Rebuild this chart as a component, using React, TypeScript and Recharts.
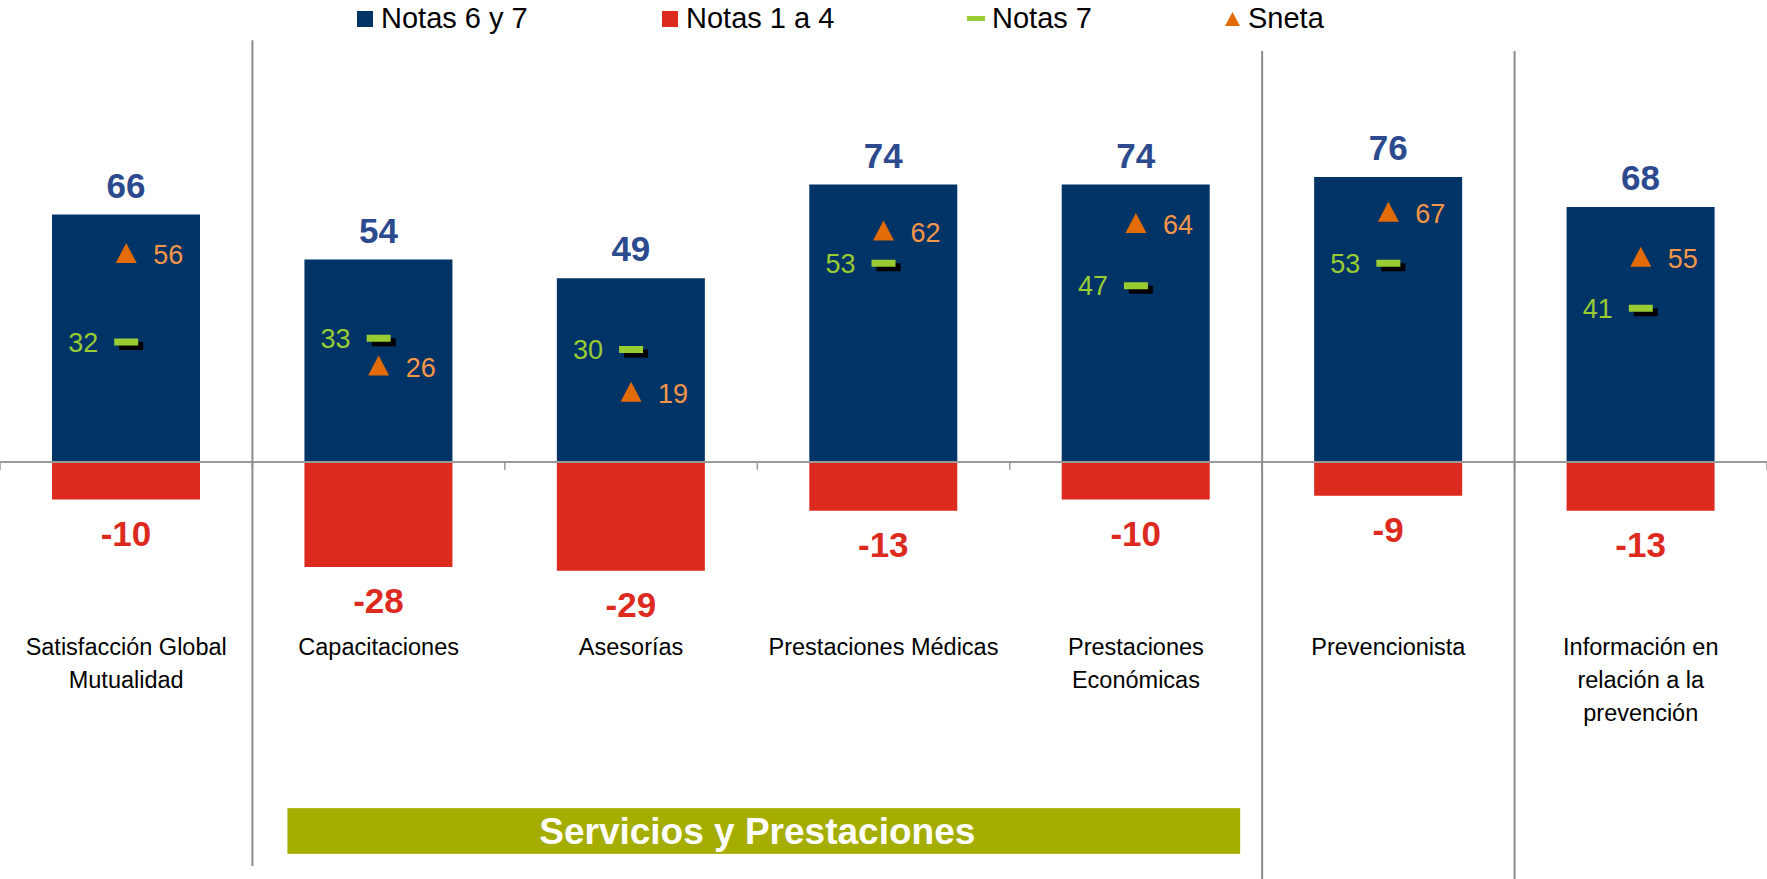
import React from 'react';
import {
  ComposedChart,
  Bar,
  Line,
  XAxis,
  YAxis,
  ReferenceLine,
  ReferenceArea,
  LabelList,
  Legend,
  Label,
} from 'recharts';

// ---------- data ----------
const categories = [
  'Satisfacción Global\nMutualidad',
  'Capacitaciones',
  'Asesorías',
  'Prestaciones Médicas',
  'Prestaciones\nEconómicas',
  'Prevencionista',
  'Información en\nrelación a la\nprevención',
];
const notas67 = [66, 54, 49, 74, 74, 76, 68];
const notas14 = [-10, -28, -29, -13, -10, -9, -13];
const notas7 = [32, 33, 30, 53, 47, 53, 41];
const sneta = [56, 26, 19, 62, 64, 67, 55];
const seriesNames = ['Notas 6 y 7', 'Notas 1 a 4', 'Notas 7', 'Sneta'];
const groupLabel = 'Servicios y Prestaciones';
// groups start at these categories (vertical separators on their left edge)
const groupStarts = [1, 5, 6];
// the "Servicios y Prestaciones" group covers categories 1..4
const groupFirst = 1;
const groupLast = 4;

const data = categories.map((name, i) => ({
  name,
  n67: notas67[i],
  n14: notas14[i],
  n7: notas7[i],
  sneta: sneta[i],
}));

// ---------- styles ----------
const W = 1767;
const H = 879;
const BLUE = '#003366';
const BLUE_TXT = '#2C4A8E';
const RED = '#DC2A1E';
const GREEN = '#99CC33';
const ORANGE = '#E36C09';
const ORANGE_TXT = '#F79646';
const GRAY = '#9A9A9A';
const OLIVE = '#A5AD00';
const FONT = "'Liberation Sans', Arial, sans-serif";

const CategoryTick = (props: any) => {
  const { x, y, payload } = props;
  const lines = String(payload.value).split('\n');
  return (
    <text textAnchor="middle" fontFamily={FONT} fontSize={23.5} fill="#000">
      {lines.map((l, i) => (
        <tspan key={i} x={x} y={y + 43 + i * 33}>
          {l}
        </tspan>
      ))}
    </text>
  );
};

const TopValueLabel = (p: any) => {
  const top = Math.min(p.y, p.y + p.height);
  return (
    <text
      x={p.x + p.width / 2}
      y={top - 17}
      textAnchor="middle"
      fontFamily={FONT}
      fontWeight="bold"
      fontSize={35}
      fill={BLUE_TXT}
    >
      {p.value}
    </text>
  );
};

const BottomValueLabel = (p: any) => {
  const bottom = Math.max(p.y, p.y + p.height);
  return (
    <text
      x={p.x + p.width / 2}
      y={bottom + 46}
      textAnchor="middle"
      fontFamily={FONT}
      fontWeight="bold"
      fontSize={35}
      fill={RED}
    >
      {p.value}
    </text>
  );
};

const DashDot = (p: any) => {
  const { cx, cy, index } = p;
  if (cx == null || cy == null) return <g key={index} />;
  return (
    <g key={`d${index}`}>
      <rect x={cx - 7} y={cy} width={24} height={8} fill="#000" />
      <rect x={cx - 12} y={cy - 3.5} width={24} height={7} fill={GREEN} />
    </g>
  );
};

const TriangleDot = (p: any) => {
  const { cx, cy, index } = p;
  if (cx == null || cy == null) return <g key={index} />;
  return (
    <path
      key={`t${index}`}
      d={`M${cx - 10.5},${cy + 11} L${cx + 10.5},${cy + 11} L${cx},${cy - 9} Z`}
      fill={ORANGE}
    />
  );
};

const LeftLabel = (p: any) => (
  <text
    x={p.x - 28}
    y={p.y + 9.5}
    textAnchor="end"
    fontFamily={FONT}
    fontSize={27}
    fill={GREEN}
  >
    {p.value}
  </text>
);

const RightLabel = (p: any) => (
  <text
    x={p.x + 27}
    y={p.y + 12}
    textAnchor="start"
    fontFamily={FONT}
    fontSize={27}
    fill={ORANGE_TXT}
  >
    {p.value}
  </text>
);

// banner drawn inside the band of its group, inset a little as in the original
const BannerShape = (p: any) => {
  const { x, y, width, height } = p;
  const top = Math.min(y, y + height);
  const h = Math.abs(height);
  return <rect x={x + 35} y={top} width={width - 57} height={h} fill={OLIVE} />;
};

const legendLefts = [357, 662, 967, 1225];

const LegendSymbol = ({ i }: { i: number }) => {
  if (i === 0) return <div style={{ width: 16, height: 16, background: BLUE }} />;
  if (i === 1) return <div style={{ width: 16, height: 16, background: RED }} />;
  if (i === 2) return <div style={{ width: 18, height: 5, background: GREEN }} />;
  return (
    <svg width={15} height={14} style={{ display: 'block' }}>
      <path d="M0,14 L15,14 L7.5,0 Z" fill={ORANGE} />
    </svg>
  );
};

const LegendContent = () => (
  <div style={{ position: 'relative', height: 0, width: W }}>
    {seriesNames.map((name, i) => (
      <div
        key={name}
        style={{
          position: 'absolute',
          left: legendLefts[i],
          top: 4,
          height: 29,
          display: 'flex',
          alignItems: 'center',
          whiteSpace: 'nowrap',
        }}
      >
        <LegendSymbol i={i} />
        <span
          style={{
            marginLeft: i === 2 ? 7 : 8,
            fontFamily: FONT,
            fontSize: 29,
            lineHeight: '29px',
            color: '#000',
          }}
        >
          {name}
        </span>
      </div>
    ))}
  </div>
);

export default function App() {
  return (
    <div style={{ position: 'absolute', left: 0, top: 0, width: W, height: H, background: '#fff' }}>
      <ComposedChart
        width={W}
        height={H}
        data={data}
        stackOffset="sign"
        margin={{ top: 87, right: 0, bottom: 167, left: 0 }}
      >
        <XAxis
          dataKey="name"
          axisLine={false}
          tickLine={false}
          tickSize={0}
          tickMargin={0}
          height={100}
          interval={0}
          tick={<CategoryTick />}
        />
        <YAxis type="number" domain={[-40, 100]} allowDataOverflow hide />

        <Bar dataKey="n67" name={seriesNames[0]} stackId="s" fill={BLUE} barSize={148} isAnimationActive={false}>
          <LabelList dataKey="n67" content={TopValueLabel} />
        </Bar>
        <Bar dataKey="n14" name={seriesNames[1]} stackId="s" fill={RED} barSize={148} isAnimationActive={false}>
          <LabelList dataKey="n14" content={BottomValueLabel} />
        </Bar>

        <ReferenceLine y={0} stroke={GRAY} strokeWidth={2} />
        {categories.map((c, k) => (
          <ReferenceLine
            key={`tk${k}`}
            segment={[{ x: c, y: 0 }, { x: c, y: -2.1 }]}
            position="start"
            stroke={GRAY}
            strokeWidth={1.5}
            ifOverflow="visible"
          />
        ))}
        <ReferenceLine
          segment={[
            { x: categories[categories.length - 1], y: 0 },
            { x: categories[categories.length - 1], y: -2.1 },
          ]}
          position="end"
          stroke={GRAY}
          strokeWidth={1.5}
          ifOverflow="visible"
        />
        {groupStarts.map((k, i) => (
          <ReferenceLine
            key={`sep${k}`}
            segment={
              i === 0
                ? [{ x: categories[k], y: 112.5 }, { x: categories[k], y: -107.7 }]
                : [{ x: categories[k], y: 109.6 }, { x: categories[k], y: -112 }]
            }
            position="start"
            stroke="#8C8C8C"
            strokeWidth={2}
            ifOverflow="visible"
          />
        ))}
        <ReferenceArea
          x1={categories[groupFirst]}
          x2={categories[groupLast]}
          y1={-104.5}
          y2={-92.3}
          fill={OLIVE}
          fillOpacity={1}
          stroke="none"
          ifOverflow="visible"
          shape={BannerShape}
        >
          <Label
            value={groupLabel}
            position="center"
            fill="#fff"
            fontSize={37}
            fontWeight="bold"
            fontFamily={FONT}
          />
        </ReferenceArea>

        <Line
          dataKey="n7"
          name={seriesNames[2]}
          stroke="none"
          dot={DashDot}
          activeDot={false}
          isAnimationActive={false}
        >
          <LabelList dataKey="n7" content={LeftLabel} />
        </Line>
        <Line
          dataKey="sneta"
          name={seriesNames[3]}
          stroke="none"
          dot={TriangleDot}
          activeDot={false}
          isAnimationActive={false}
        >
          <LabelList dataKey="sneta" content={RightLabel} />
        </Line>

        <Legend verticalAlign="top" content={LegendContent} wrapperStyle={{ top: 0, left: 0, width: W }} />
      </ComposedChart>
    </div>
  );
}
